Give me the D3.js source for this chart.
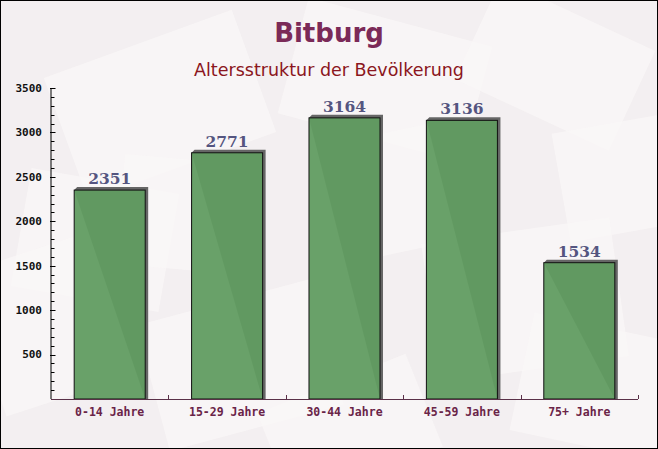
<!DOCTYPE html>
<html><head><meta charset="utf-8">
<script src="https://cdn.jsdelivr.net/npm/d3@7"></script>
<style>html,body{margin:0;padding:0;background:#fff}svg{display:block}</style>
</head><body>
<script>
const categories = ["0-14 Jahre","15-29 Jahre","30-44 Jahre","45-59 Jahre","75+ Jahre"];
const values = [2351,2771,3164,3136,1534];
const yTicks = [500,1000,1500,2000,2500,3000,3500];
const title = "Bitburg";
const subtitle = "Altersstruktur der Bevölkerung";

const W = 658, H = 449;
const svg = d3.select("body").append("svg").attr("width", W).attr("height", H);

// background
svg.append("rect").attr("width", W).attr("height", H).attr("fill", "#f3eff1");
const deco = [
  [60,40,200,130,-20],[290,20,190,120,15],[470,10,170,110,25],[560,120,150,110,-10],
  [20,180,150,120,10],[320,130,170,120,-12],[430,230,190,140,-8],[150,300,180,130,-15],
  [-20,250,130,150,-18],[520,330,180,120,12],[270,380,160,100,-22],[120,160,140,110,5]
];
svg.append("g").selectAll("rect").data(deco).join("rect")
  .attr("x", d=>d[0]).attr("y", d=>d[1]).attr("width", d=>d[2]).attr("height", d=>d[3])
  .attr("transform", d=>`rotate(${d[4]},${d[0]+d[2]/2},${d[1]+d[3]/2})`)
  .attr("fill", "#faf7f7").attr("opacity", 0.75);

const x0 = 51, x1 = 638, yBase = 399, yTop = 88;
const x = d3.scaleBand().domain(categories).range([x0, x1]).paddingInner(0.395).paddingOuter(0.1975);
const y = d3.scaleLinear().domain([0, 3500]).range([yBase, yTop]);

// titles
svg.append("text").attr("x", 329).attr("y", 42).attr("text-anchor", "middle")
  .attr("font-family", "DejaVu Sans").attr("font-weight", "bold").attr("font-size", 26)
  .attr("fill", "#7b2a58").text(title);
svg.append("text").attr("x", 329).attr("y", 76).attr("text-anchor", "middle")
  .attr("font-family", "DejaVu Sans").attr("font-size", 17.5)
  .attr("fill", "#8b1620").text(subtitle);

// shadows
const d = 3;
svg.append("g").selectAll("path").data(values).join("path")
  .attr("d", (v,i) => {
    const l = x(categories[i]), r = l + x.bandwidth(), t = y(v), b = y(0);
    return `M${l},${t} L${l+d},${t-d} L${r+d},${t-d} L${r+d},${b} L${r},${b} Z`;
  })
  .attr("fill", "#666");

// bars
svg.append("g").selectAll("rect").data(values).join("rect")
  .attr("x", (v,i)=>x(categories[i])).attr("y", v=>y(v))
  .attr("width", x.bandwidth()).attr("height", v=>y(0)-y(v))
  .attr("fill", "#619c61").attr("fill-opacity", 0.95)
  .attr("stroke", "#111").attr("stroke-width", 1);

// value labels
svg.append("g").selectAll("text").data(values).join("text")
  .attr("x", (v,i)=>x(categories[i]) + x.bandwidth()/2)
  .attr("y", v=>y(v) - 6)
  .attr("text-anchor", "middle")
  .attr("font-family", "DejaVu Serif").attr("font-weight", "bold").attr("font-size", 15.5)
  .attr("fill", "#555580").text(v=>v);

// y axis
const ya = svg.append("g");
ya.append("line").attr("x1", x0).attr("x2", x0).attr("y1", yTop).attr("y2", yBase).attr("stroke", "#000");
const minor = d3.range(100, 3500, 100).filter(v => v % 500 !== 0);
ya.selectAll("line.mi").data(minor).join("line").attr("class","mi")
  .attr("x1", x0).attr("x2", x0+3.5).attr("y1", v=>Math.round(y(v))+0.5).attr("y2", v=>Math.round(y(v))+0.5)
  .attr("stroke", "#000");
ya.selectAll("line.ma").data(yTicks).join("line").attr("class","ma")
  .attr("x1", x0-1).attr("x2", x0+4.5).attr("y1", v=>Math.round(y(v))+0.5).attr("y2", v=>Math.round(y(v))+0.5)
  .attr("stroke", "#000");
ya.selectAll("text").data(yTicks).join("text")
  .attr("x", 42).attr("y", v=>y(v)).attr("dy", "0.35em").attr("text-anchor", "end")
  .attr("font-family", "DejaVu Sans Mono").attr("font-weight", "bold").attr("font-size", 11)
  .attr("fill", "#111").text(v=>v);

// x axis
const xa = svg.append("g");
xa.append("line").attr("x1", x0).attr("x2", x1).attr("y1", yBase+0.5).attr("y2", yBase+0.5).attr("stroke", "#5a3048");
const bounds = categories.map((c,i)=> x0 + (x1-x0)/categories.length*(i+1));
xa.selectAll("line.t").data(bounds).join("line").attr("class","t")
  .attr("x1", b=>Math.round(b)+0.5).attr("x2", b=>Math.round(b)+0.5).attr("y1", yBase-4).attr("y2", yBase)
  .attr("stroke", "#5a3048");
xa.selectAll("text").data(categories).join("text")
  .attr("x", c=>x(c)+x.bandwidth()/2).attr("y", 415.5).attr("text-anchor", "middle")
  .attr("font-family", "DejaVu Sans Mono").attr("font-weight", "bold").attr("font-size", 11.5)
  .attr("fill", "#6a2448").text(c=>c);

// border
svg.append("rect").attr("x", 0.5).attr("y", 0.5).attr("width", W-1).attr("height", H-1)
  .attr("fill", "none").attr("stroke", "#000");
</script>
</body></html>
